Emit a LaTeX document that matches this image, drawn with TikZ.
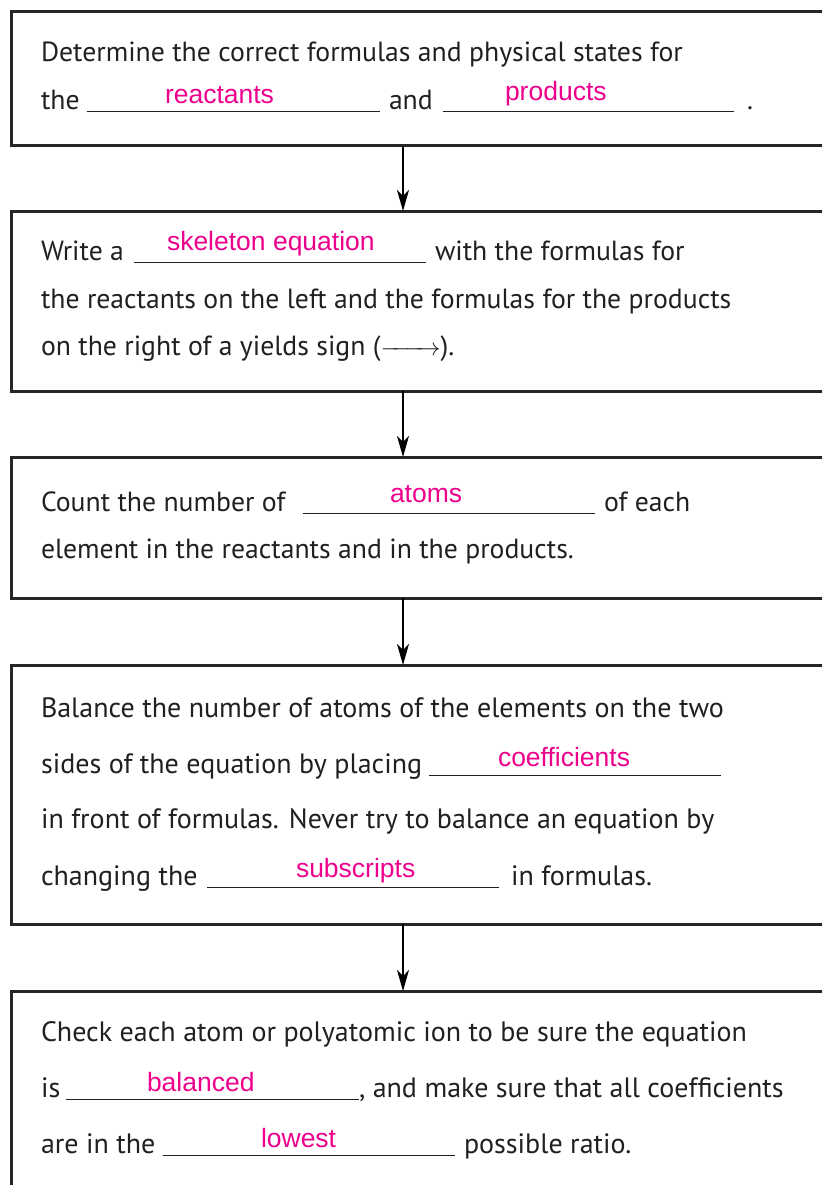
\documentclass[tikz,border=0pt]{standalone}
\usepackage{fontspec}
\setmainfont{PT Sans}
\newfontfamily\pinkfont{Liberation Sans}
\usetikzlibrary{arrows.meta}
\definecolor{ansPink}{HTML}{EC008C}
\definecolor{boxline}{HTML}{262626}
\definecolor{ink}{HTML}{231F20}
\begin{document}
\begin{tikzpicture}[x=1pt,y=-1pt,
  stepbox/.style={draw=boxline, line width=3pt, inner sep=0pt, outer sep=0pt, anchor=north west},
  txt/.style={anchor=base west, inner sep=0pt, outer sep=0pt, text=ink, font=\fontsize{27.7}{32}\selectfont},
  txtb/.style={txt, font=\fontsize{28}{32}\selectfont},
  ans/.style={anchor=base west, inner sep=0pt, outer sep=0pt, text=ansPink, font=\pinkfont\fontsize{26.5}{30}\selectfont},
  blank/.style={line width=1pt, draw=ink},
  flow/.style={draw=black, line width=1.2pt, -{Stealth[length=21pt,width=12pt,inset=6pt]}}
]
\clip (0,0) rectangle (822,1185);
% boxes
\node[stepbox, minimum width=830pt, minimum height=134pt] (b1) at (11.5,12) {};
\node[stepbox, minimum width=830pt, minimum height=180pt] (b2) at (11.5,211) {};
\node[stepbox, minimum width=830pt, minimum height=141pt] (b3) at (11.5,457) {};
\node[stepbox, minimum width=830pt, minimum height=259pt] (b4) at (11.5,665) {};
\node[stepbox, minimum width=830pt, minimum height=230pt] (b5) at (11.5,991) {};
% arrows
\coordinate (ax) at (403,0);
\draw[flow] (b1.south -| ax) -- (b2.north -| ax);
\draw[flow] (b2.south -| ax) -- (b3.north -| ax);
\draw[flow] (b3.south -| ax) -- (b4.north -| ax);
\draw[flow] (b4.south -| ax) -- (b5.north -| ax);
% box 1
\node[txt] (t1a) at (41,62) {Determine the correct formulas and physical states for};
\node[txt] (t1b) at (41,110) {the};
\coordinate (u1s) at (86.5,112); \coordinate (u1e) at (380,112);
\draw[blank] (u1s) -- (u1e);
\node[txt] (t1c) at (389,110) {and};
\coordinate (u2s) at (443,112); \coordinate (u2e) at (734,112);
\draw[blank] (u2s) -- (u2e);
\node[txt] (t1d) at (747,110) {.};
\node[ans] (a1) at (165,104) {reactants};
\node[ans] (a2) at (505,101) {products};
% box 2
\node[txt] (t2a) at (41,260) {Write a};
\coordinate (u3s) at (134,262); \coordinate (u3e) at (426,262);
\draw[blank] (u3s) -- (u3e);
\node[txt] (t2b) at (435,260) {with the formulas for};
\node[ans] (a3) at (167,250) {skeleton equation};
\node[txt] (t2c) at (41,308) {the reactants on the left and the formulas for the products};
\node[txt] (t2d) at (41,355) {on the right of a yields sign (\makebox[60pt]{\rightarrowfill}).};
% box 3
\node[txt] (t3a) at (41,511) {Count the number of};
\coordinate (u4s) at (303,513); \coordinate (u4e) at (595,513);
\draw[blank] (u4s) -- (u4e);
\node[txt] (t3b) at (604,511) {of each};
\node[ans] (a4) at (390,502) {atoms};
\node[txt] (t3c) at (41,558) {element in the reactants and in the products.};
% box 4
\node[txtb] (t4a) at (41,717) {Balance the number of atoms of the elements on the two};
\node[txtb] (t4b) at (41,773) {sides of the equation by placing};
\coordinate (u5s) at (429,775); \coordinate (u5e) at (721,775);
\draw[blank] (u5s) -- (u5e);
\node[ans] (a5) at (498,766) {coefficients};
\node[txtb] (t4c) at (41,828) {in front of formulas. Never try to balance an equation by};
\node[txtb] (t4d) at (41,885) {changing the};
\coordinate (u6s) at (207,887); \coordinate (u6e) at (499,887);
\draw[blank] (u6s) -- (u6e);
\node[txtb] (t4e) at (511,885) {in formulas.};
\node[ans] (a6) at (296,877) {subscripts};
% box 5
\node[txtb] (t5a) at (41,1041) {Check each atom or polyatomic ion to be sure the equation};
\node[txtb] (t5b) at (41,1097) {is};
\coordinate (u7s) at (65.5,1099); \coordinate (u7e) at (359,1099);
\draw[blank] (u7s) -- (u7e);
\node[txtb] (t5c) at (359,1097) {, and make sure that all coefficients};
\node[ans] (a7) at (147,1091) {balanced};
\node[txtb] (t5d) at (41,1153) {are in the};
\coordinate (u8s) at (162.5,1155); \coordinate (u8e) at (455,1155);
\draw[blank] (u8s) -- (u8e);
\node[txtb] (t5e) at (464,1153) {possible ratio.};
\node[ans] (a8) at (261,1147) {lowest};
\end{tikzpicture}
\end{document}
